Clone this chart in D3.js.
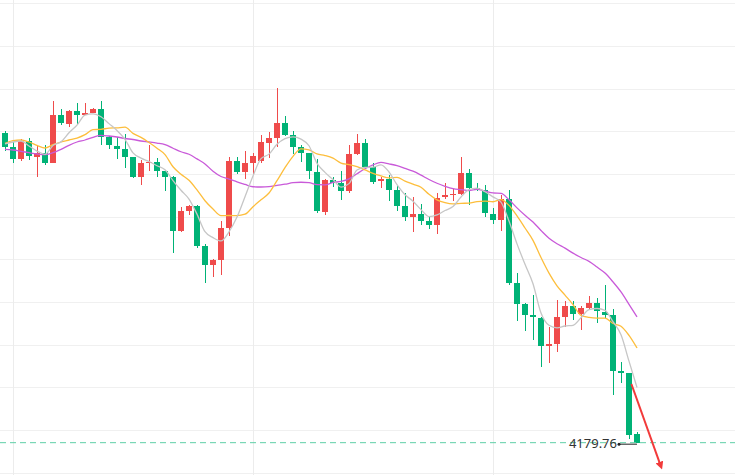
<!DOCTYPE html>
<html>
<head>
<meta charset="utf-8">
<script src="https://cdn.jsdelivr.net/npm/d3@7/dist/d3.min.js"></script>
<style>
	body { margin: 0; background: #fff; }
	svg { display: block; }
	text { font-family: "Noto Sans", "DejaVu Sans", sans-serif; }
</style>
</head>
<body>
<svg id="chart" width="735" height="475"></svg>
<script>

const opens = [4334.75, 4327.75, 4321.75, 4330.45, 4322.75, 4324.75, 4319.75, 4343.75, 4339.1, 4345.75,
	4343.75, 4344.75, 4346.75, 4332.75, 4328.1, 4326.45, 4322.45, 4312.75, 4319.75, 4320.1,
	4315.75, 4312.75, 4285.75, 4295.75, 4298.1, 4278.1, 4268.75, 4271.1, 4287.1, 4320.75,
	4315.1, 4319.75, 4320.75, 4329.75, 4332.1, 4339.75, 4333.45, 4327.45, 4324.45, 4315.1,
	4295.1, 4311.1, 4309.75, 4305.75, 4324.1, 4329.75, 4317.45, 4310.45, 4311.75, 4306.1,
	4298.1, 4292.45, 4294.1, 4290.45, 4288.75, 4302.45, 4303.75, 4304.1, 4314.45, 4307.1,
	4306.1, 4294.1, 4291.1, 4301.45, 4259.45, 4249.1, 4243.45, 4242.1, 4228.1, 4229.1,
	4242.75, 4248.1, 4244.1, 4247.1, 4249.45, 4245.1, 4243.45, 4215.45, 4214.45, 4184.1]

const highs = [4335.75, 4330.1, 4331.75, 4332.1, 4328.45, 4328.45, 4350.75, 4346.75, 4346.0, 4349.45,
	4349.45, 4347.1, 4350.45, 4333.0, 4332.75, 4334.1, 4322.7, 4321.1, 4328.75, 4322.1,
	4316.0, 4313.0, 4297.75, 4298.4, 4298.4, 4279.1, 4271.4, 4290.75, 4322.45, 4322.45,
	4325.75, 4324.45, 4333.45, 4335.1, 4357.1, 4343.1, 4335.45, 4328.45, 4324.7, 4321.75,
	4311.4, 4312.45, 4315.75, 4328.45, 4334.1, 4331.45, 4319.75, 4312.75, 4313.45, 4308.1,
	4304.45, 4302.45, 4299.1, 4292.75, 4304.45, 4309.45, 4306.75, 4322.75, 4316.45, 4309.45,
	4308.45, 4297.1, 4303.75, 4306.1, 4264.75, 4249.4, 4253.75, 4242.4, 4237.75, 4251.1,
	4250.75, 4250.75, 4248.1, 4253.1, 4252.1, 4258.45, 4246.45, 4220.1, 4214.7, 4185.1]

const lows = [4325.75, 4319.45, 4320.75, 4321.1, 4312.45, 4318.45, 4319.5, 4338.45, 4337.75, 4339.1,
	4343.5, 4344.5, 4328.45, 4326.45, 4321.45, 4317.1, 4312.1, 4308.75, 4315.45, 4312.75,
	4305.75, 4274.45, 4285.1, 4293.75, 4277.1, 4259.45, 4262.75, 4263.45, 4283.1, 4314.1,
	4311.75, 4314.1, 4319.5, 4322.1, 4327.45, 4333.1, 4324.1, 4320.1, 4311.75, 4294.45,
	4293.75, 4307.45, 4301.1, 4304.45, 4323.45, 4317.45, 4309.1, 4307.1, 4300.45, 4295.75,
	4290.45, 4285.1, 4288.45, 4286.45, 4284.1, 4301.75, 4300.45, 4303.75, 4298.75, 4305.75,
	4292.6, 4289.1, 4285.75, 4258.75, 4240.75, 4235.75, 4231.1, 4217.75, 4219.45, 4225.1,
	4237.75, 4241.1, 4236.1, 4246.1, 4239.75, 4242.1, 4203.75, 4209.75, 4181.75, 4179.5]

const closes = [4327.75, 4321.75, 4330.75, 4323.1, 4324.45, 4319.75, 4343.75, 4339.75, 4345.75, 4343.75,
	4344.75, 4346.75, 4332.75, 4328.45, 4326.45, 4322.75, 4312.75, 4319.75, 4320.1, 4315.75,
	4312.75, 4285.75, 4295.45, 4298.1, 4278.1, 4268.75, 4271.1, 4287.1, 4320.75, 4315.1,
	4319.75, 4323.1, 4330.1, 4332.1, 4339.75, 4333.75, 4327.75, 4324.45, 4315.45, 4295.75,
	4311.1, 4309.75, 4305.75, 4324.1, 4329.75, 4317.75, 4310.1, 4311.75, 4306.1, 4298.1,
	4292.45, 4294.1, 4290.75, 4288.75, 4302.1, 4303.45, 4304.1, 4314.45, 4307.1, 4306.1,
	4294.45, 4291.1, 4301.45, 4259.75, 4249.1, 4243.45, 4242.45, 4228.1, 4229.1, 4242.75,
	4248.1, 4244.1, 4247.1, 4249.45, 4245.45, 4243.45, 4215.75, 4214.45, 4183.45, 4179.76]

// moving average values before enough candles are on screen
const ma5_head = [4329.1, 4330.1, 4330.6, 4328.1]
const ma10_head = [4329.45, 4330.75, 4331.1, 4330.1, 4328.45, 4327.1, 4328.75, 4330.1, 4331.1]
const ma20_head = [4326.45, 4326.1, 4325.45, 4324.75, 4324.1, 4323.75, 4324.75, 4326.45, 4328.45, 4330.1,
	4331.1, 4332.45, 4333.45, 4333.1, 4332.6, 4331.85, 4331.35, 4330.6, 4330.1]

const grid_prices = [4399.45, 4378.1, 4356.8, 4335.45, 4314.1, 4292.75, 4271.45, 4250.1, 4228.75, 4207.45, 4186.1, 4164.75]
const grid_candles = [1, 31, 61]

const last_price = 4179.76
const arrow_from = [78.3, 4209.1]
const arrow_to = [82.0, 4167.8]

const width = 735
const height = 475
const green = "#00b276"
const red = "#ef4b4b"

const svg = d3.select("#chart")

const x = d3.scaleLinear().domain([0, 79]).range([5, 637])
const y = d3.scaleLinear().domain([4401.1, 4163.6]).range([0, height])

function moving_avg(n, head) {
	return closes.map((c, i) => i < n - 1 ? head[i] : d3.mean(closes.slice(i - n + 1, i + 1)))
}

// grid
svg.append("g").selectAll("line.h")
	.data(grid_prices).enter().append("line")
	.attr("x1", 0).attr("x2", width)
	.attr("y1", (d) => Math.round(y(d)) + 0.5)
	.attr("y2", (d) => Math.round(y(d)) + 0.5)
	.attr("stroke", "#f0f0f0")

svg.append("g").selectAll("line.v")
	.data(grid_candles).enter().append("line")
	.attr("y1", 0).attr("y2", height)
	.attr("x1", (d) => Math.round(x(d)) + 0.5)
	.attr("x2", (d) => Math.round(x(d)) + 0.5)
	.attr("stroke", "#ececec")

// candles
const candles = svg.append("g").attr("shape-rendering", "crispEdges")
	.selectAll("g").data(d3.range(closes.length)).enter().append("g")

candles.append("line")
	.attr("x1", (i) => x(i)).attr("x2", (i) => x(i))
	.attr("y1", (i) => y(highs[i])).attr("y2", (i) => y(lows[i]))
	.attr("stroke", (i) => closes[i] >= opens[i] ? red : green)
	.attr("stroke-width", 1)

candles.append("rect")
	.attr("x", (i) => x(i) - 3)
	.attr("width", 6)
	.attr("y", (i) => y(Math.max(opens[i], closes[i])))
	.attr("height", (i) => Math.max(1, Math.abs(y(opens[i]) - y(closes[i]))))
	.attr("fill", (i) => closes[i] >= opens[i] ? red : green)

// moving averages
const ma_lines = [
	{ values: moving_avg(20, ma20_head), color: "#c95ad9" },
	{ values: moving_avg(10, ma10_head), color: "#fdbe3c" },
	{ values: moving_avg(5, ma5_head), color: "#c6c6c6" }
]

const line = d3.line().x((d, i) => x(i)).y((d) => y(d)).curve(d3.curveMonotoneX)

svg.append("g").selectAll("path")
	.data(ma_lines).enter().append("path")
	.attr("d", (d) => line(d.values))
	.attr("fill", "none")
	.attr("stroke", (d) => d.color)
	.attr("stroke-width", 1.3)

// last price line and label
svg.append("line")
	.attr("x1", 0).attr("x2", width)
	.attr("y1", y(last_price)).attr("y2", y(last_price))
	.attr("stroke", "#5fcfa7")
	.attr("stroke-dasharray", "6,4")

svg.append("text")
	.attr("x", 617)
	.attr("y", y(last_price))
	.attr("text-anchor", "end")
	.attr("dominant-baseline", "central")
	.attr("font-size", 13)
	.attr("fill", "#333")
	.text(last_price.toFixed(2))

svg.append("line")
	.attr("x1", 619).attr("x2", x(79))
	.attr("y1", y(last_price) + 1.5).attr("y2", y(last_price) + 1.5)
	.attr("stroke", "#222")
	.attr("stroke-width", 1)

svg.append("circle")
	.attr("cx", 619).attr("cy", y(last_price) + 1.5)
	.attr("r", 1.5).attr("fill", "#222")

// red arrow
const defs = svg.append("defs")
defs.append("marker")
	.attr("id", "arrow_head")
	.attr("viewBox", "0 0 10 10")
	.attr("refX", 6).attr("refY", 5)
	.attr("markerWidth", 4).attr("markerHeight", 4)
	.attr("orient", "auto")
	.append("path")
	.attr("d", "M0,0 L10,5 L0,10 z")
	.attr("fill", "#f23a3a")

svg.append("line")
	.attr("x1", x(arrow_from[0])).attr("y1", y(arrow_from[1]))
	.attr("x2", x(arrow_to[0])).attr("y2", y(arrow_to[1]))
	.attr("stroke", "#f23a3a")
	.attr("stroke-width", 2)
	.attr("marker-end", "url(#arrow_head)")

</script>
</body>
</html>
